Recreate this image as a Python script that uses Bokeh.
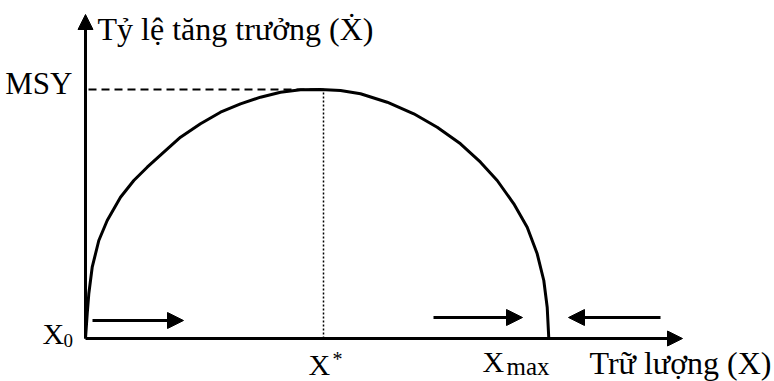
from bokeh.plotting import figure
from bokeh.models import Range1d, Arrow, NormalHead, Label
from bokeh.embed import file_html
from bokeh.resources import INLINE

# Growth curve: stock (X) vs growth rate (X dot)
stock = [0, 1.7, 3.3, 6.7, 13.3, 21.7, 35, 48.3, 61.7, 78.3, 95, 115, 135, 155,
         175, 195, 215, 235, 255, 275, 301.7, 328.3, 351.7, 375, 395, 411.7,
         428.3, 441.7, 451.7, 458.3, 461.7, 463.3]
growth = [0, 24.7, 44.7, 71.3, 98, 118, 141.3, 158, 171.3, 186.3, 201.3, 214.7,
          226.3, 234.7, 241.3, 246.3, 248.7, 249, 248, 244.7, 236.3, 224.7, 211.3,
          194.7, 176.3, 158, 134.7, 111.3, 84.7, 58, 31.3, 0]

MSY = 249
X_STAR = 238
X_MAX = 463.3
X_AXIS_END = 597
Y_AXIS_END = 324

# direction arrows on the stock axis (start, end, level)
flow_start = [7, 348, 575]
flow_end = [98, 437, 483]
flow_level = [18, 21, 21]

FONT = "Liberation Serif"

p = figure(width=774, height=381, x_range=Range1d(-85, 689), y_range=Range1d(-43, 338),
           output_backend="svg", toolbar_location=None,
           x_axis_location=None, y_axis_location=None, min_border=0)
p.grid.visible = False
p.outline_line_color = None
p.background_fill_color = "white"
p.border_fill_color = "white"

# axes with arrow heads
p.add_layout(Arrow(x_start=0, y_start=0, x_end=X_AXIS_END, y_end=0, line_width=3,
                   line_color="black",
                   end=NormalHead(size=15, fill_color="black", line_color="black")))
p.add_layout(Arrow(x_start=0, y_start=0, x_end=0, y_end=Y_AXIS_END, line_width=3,
                   line_color="black",
                   end=NormalHead(size=15, fill_color="black", line_color="black")))

# MSY dashed guide and X* dotted guide
p.line([3, X_STAR], [MSY, MSY], line_color="black", line_width=2, line_dash="8 5")
p.line([X_STAR, X_STAR], [0, MSY], line_color="black", line_width=1.5, line_dash="2 2")

# growth curve
p.line(stock, growth, line_color="black", line_width=3, line_join="round")

# direction arrows
for xs, xe, yl in zip(flow_start, flow_end, flow_level):
    p.add_layout(Arrow(x_start=xs, y_start=yl, x_end=xe, y_end=yl, line_width=3,
                       line_color="black",
                       end=NormalHead(size=16, fill_color="black", line_color="black")))

def lab(x, y, t, size, align="left"):
    p.add_layout(Label(x=x, y=y, text=t, text_font=FONT, text_font_size=size,
                       text_color="black", text_align=align, text_baseline="alphabetic"))

lab(12, 310, "Tỷ lệ tăng trưởng (Ẋ)", "32px")
lab(-13, 255, "MSY", "31px", "right")
lab(-43, 5, "X", "30px")
lab(-22, -2, "0", "19px")
lab(X_STAR - 15, -26, "X", "30px")
lab(X_STAR + 9, -20, "*", "20px")
lab(397, -23, "X", "30px")
lab(421, -28, "max", "25px")
lab(686, -24, "Trữ lượng (X)", "32px", "right")

open("out.html", "w").write(file_html(p, INLINE))
